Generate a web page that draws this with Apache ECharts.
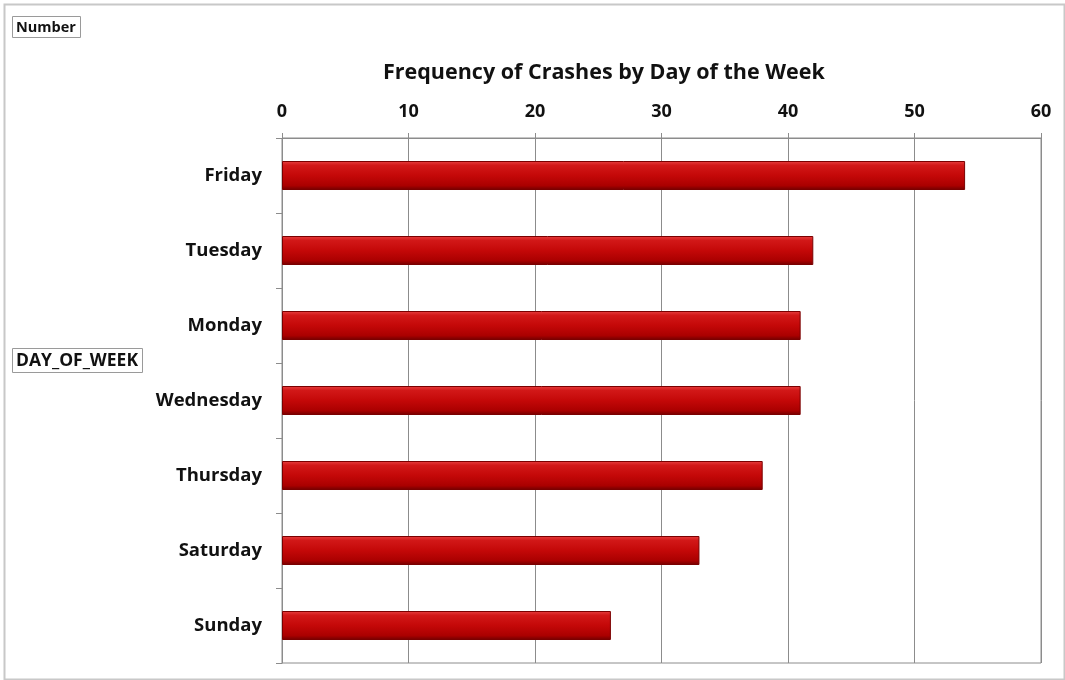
<!DOCTYPE html>
<html>
<head>
<meta charset="utf-8">
<script src="https://cdn.jsdelivr.net/npm/echarts@6/dist/echarts.min.js"></script>
<style>
html,body{margin:0;padding:0;background:#fff;}
#c{width:1065px;height:680px;}
</style>
</head>
<body>
<div id="c"></div>
<script>
const days = ["Friday","Tuesday","Monday","Wednesday","Thursday","Saturday","Sunday"];
const crashes = [54, 42, 41, 41, 38, 33, 26];
const titleText = "Frequency of Crashes by Day of the Week";
const valueFieldLabel = "Number";
const categoryFieldLabel = "DAY_OF_WEEK";

const FONT = "'Open Sans', 'Liberation Sans', sans-serif";
const chart = echarts.init(document.getElementById('c'));
chart.setOption({
  animation: false,
  backgroundColor: '#fff',
  graphic: [{
    type: 'rect', left: 2, top: 2, shape: {width: 1060, height: 675},
    style: {fill: 'none', stroke: '#c8c8c8', lineWidth: 2}
  }],
  title: [
    {text: titleText, left: 383, top: 62, itemGap: 0, padding: 0,
     textStyle: {fontFamily: FONT, fontWeight: 'bold', fontSize: 21.5, color: '#111'}},
    {text: valueFieldLabel, left: 12, top: 16, padding: [4, 5, 3, 4],
     borderColor: '#9a9a9a', borderWidth: 1,
     textStyle: {fontFamily: FONT, fontWeight: 'bold', fontSize: 14.5, color: '#111'}},
    {text: categoryFieldLabel, left: 12, top: 348, padding: [4, 5, 3, 4],
     borderColor: '#9a9a9a', borderWidth: 1,
     textStyle: {fontFamily: FONT, fontWeight: 'bold', fontSize: 17.5, color: '#111'}}
  ],
  grid: {left: 282, right: 24, top: 138, bottom: 17, show: true,
         borderColor: '#8c8c8c', borderWidth: 1, containLabel: false},
  xAxis: {
    type: 'value', position: 'top', min: 0, max: 60, interval: 10,
    axisLine: {show: true, lineStyle: {color: '#8c8c8c'}},
    axisTick: {show: true, length: 5, lineStyle: {color: '#8c8c8c'}},
    axisLabel: {margin: 17, fontFamily: FONT, fontWeight: 'bold', fontSize: 18, color: '#111'},
    splitLine: {show: true, lineStyle: {color: '#8c8c8c', width: 1}}
  },
  yAxis: {
    type: 'category', data: days, inverse: true,
    axisLine: {show: true, lineStyle: {color: '#8c8c8c'}},
    axisTick: {show: true, length: 6, lineStyle: {color: '#8c8c8c'}},
    axisLabel: {margin: 20, padding: [4, 0, 0, 0], fontFamily: FONT, fontWeight: 'bold', fontSize: 18.5, color: '#111'}
  },
  series: [{
    type: 'bar', data: crashes, barWidth: 29,
    itemStyle: {
      color: new echarts.graphic.LinearGradient(0, 0, 0, 1, [
        {offset: 0, color: '#e84040'},
        {offset: 0.15, color: '#d21818'},
        {offset: 0.5, color: '#c40808'},
        {offset: 0.85, color: '#aa0000'},
        {offset: 1, color: '#700000'}
      ]),
      borderColor: '#7a0000', borderWidth: 1
    }
  }]
});
</script>
</body>
</html>
